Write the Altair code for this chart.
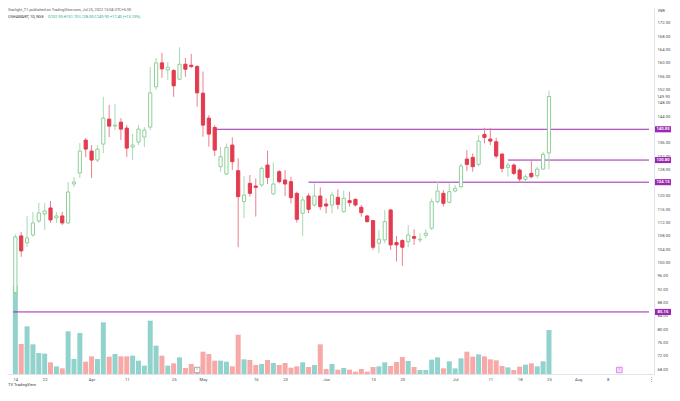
import altair as alt
import pandas as pd

# ---- data (USHAMART, 1D, NSE) ----
bar_index = list(range(92))
opens = [91.0, 108.0, 105.9, 108.3, 112.5, 114.6, 116.4, 113.4, 114.0, 111.9,
         123.6, 126.9, 136.8, 133.5, 130.8, 135.6, 143.1, 141.0, 142.2, 140.4,
         134.7, 136.2, 137.7, 140.7, 152.8, 160.0, 157.9, 157.7, 155.1, 159.6,
         159.3, 158.9, 150.9, 143.4, 140.6, 128.8, 126.6, 135.3, 127.6, 118.3,
         123.8, 123.0, 123.3, 129.3, 120.6, 127.3, 124.8, 124.3, 120.8, 114.8,
         120.0, 117.3, 120.0, 117.6, 117.3, 119.6, 115.3, 118.6, 119.0, 116.6,
         114.0, 112.6, 105.8, 106.8, 115.8, 106.0, 106.6, 106.3, 107.8, 106.8,
         108.2, 110.3, 118.3, 120.8, 118.1, 121.5, 122.8, 131.1, 131.6, 129.5,
         138.5, 137.1, 136.3, 132.6, 128.6, 129.3, 127.8, 125.0, 126.8, 126.1,
         128.1, 132.95]
highs = [108.5, 109.2, 114.0, 115.2, 117.9, 117.9, 118.5, 115.2, 115.2, 124.2,
         125.7, 135.9, 137.4, 135.3, 135.3, 149.8, 147.4, 147.7, 143.4, 141.3,
         138.6, 141.3, 140.7, 158.8, 161.5, 163.0, 160.3, 158.2, 164.7, 161.5,
         162.7, 159.4, 157.4, 144.3, 141.3, 134.8, 135.8, 137.6, 131.3, 126.0,
         126.3, 125.3, 128.8, 133.6, 130.1, 127.8, 127.8, 125.8, 121.3, 119.8,
         120.8, 123.8, 122.6, 119.3, 121.3, 122.0, 121.6, 121.3, 119.3, 117.3,
         114.3, 112.8, 109.8, 115.8, 116.0, 108.0, 107.0, 111.3, 110.0, 108.8,
         110.0, 119.3, 124.3, 121.8, 123.8, 123.3, 129.8, 133.8, 132.8, 138.3,
         140.5, 140.5, 137.5, 132.8, 130.1, 129.8, 128.3, 126.5, 130.5, 128.8,
         133.3, 151.7]
lows = [89.0, 101.7, 104.7, 107.7, 111.9, 109.8, 111.9, 111.9, 111.3, 111.6,
        122.7, 125.4, 131.7, 125.4, 130.2, 132.9, 137.7, 139.8, 136.8, 131.7,
        130.8, 135.3, 134.7, 139.8, 151.9, 155.5, 154.9, 149.8, 154.9, 155.8,
        158.5, 146.8, 137.8, 134.8, 132.0, 127.3, 126.3, 127.8, 104.6, 113.3,
        119.8, 113.8, 122.8, 123.6, 120.3, 123.8, 120.0, 117.8, 112.0, 108.0,
        114.8, 116.8, 115.8, 114.8, 114.8, 116.0, 115.0, 116.8, 116.8, 113.8,
        112.0, 103.8, 102.8, 105.8, 103.8, 100.3, 99.0, 104.6, 105.3, 106.0,
        107.3, 109.8, 117.8, 116.8, 117.8, 121.1, 122.3, 127.5, 127.3, 128.8,
        135.8, 135.3, 131.3, 127.1, 125.8, 126.3, 124.1, 124.3, 125.3, 125.3,
        127.8, 128.0]
closes = [107.7, 103.5, 107.4, 111.9, 114.9, 115.5, 112.8, 114.0, 111.9, 121.2,
          124.2, 133.5, 134.1, 130.8, 134.1, 143.4, 141.0, 141.3, 140.1, 134.4,
          135.3, 140.1, 139.8, 151.0, 160.0, 158.2, 158.7, 153.1, 159.6, 158.1,
          158.9, 151.0, 141.3, 138.6, 133.8, 131.8, 134.6, 130.3, 119.8, 120.3,
          120.8, 122.6, 128.3, 125.6, 123.6, 124.3, 123.6, 119.5, 113.0, 118.8,
          116.0, 120.0, 116.8, 117.0, 120.3, 117.5, 119.3, 118.0, 117.3, 115.0,
          112.3, 104.6, 107.0, 112.3, 105.3, 105.3, 104.6, 108.3, 107.3, 107.0,
          108.8, 118.3, 121.5, 117.8, 121.3, 122.3, 129.0, 129.5, 128.8, 136.5,
          137.6, 136.5, 132.0, 128.3, 129.3, 126.8, 125.1, 125.8, 125.8, 128.1,
          132.5, 149.9]
volumes = [265, 90, 143, 89, 63, 61, 35, 23, 17, 128, 45, 123, 37, 53, 45, 155,
           52, 60, 53, 53, 55, 40, 25, 160, 85, 55, 25, 32, 50, 18, 30, 20, 67,
           60, 40, 40, 37, 23, 118, 44, 42, 27, 30, 42, 33, 27, 33, 19, 23, 35,
           21, 27, 89, 15, 30, 13, 18, 13, 7, 15, 7, 21, 23, 35, 24, 36, 51, 39,
           21, 12, 12, 43, 50, 17, 38, 17, 47, 67, 52, 59, 53, 44, 41, 24, 20,
           12, 22, 28, 32, 23, 38, 132]

tick_index = [0, 5, 13, 19, 27, 32, 41, 46, 53, 61, 66, 75, 81, 86, 91, 96, 101]
tick_labels = ["14", "22", "Apr", "11", "25", "May", "16", "23", "Jun", "13",
               "20", "Jul", "11", "18", "25", "Aug", "8"]
price_ticks = list(range(68, 173, 4))

level_values = [140.05, 130.80, 124.15, 85.15]
level_start = [34, 84, 50, -0.4]
level_labels = ["140.05", "130.80", "124.15", "85.15"]
last_price = [149.90]
last_label = ["149.90"]
event_index = [31, 103]
event_text = ["1", "1"]

# ---- layout / style ----
W, H = 646, 366
X_DOM = [-0.4, 108.06]
P_DOM = [66.5, 176.5]
V_DOM = [0, 1098]
FONT = "Roboto"
FS = 4.2
GREEN = "#8fcf99"
GREEN_WICK = "#a6dbae"
RED = "#e33b4f"
RED_WICK = "#ec808c"
PURPLE = "#9c27b0"

df = pd.DataFrame({"i": bar_index, "o": opens, "h": highs, "l": lows,
                   "c": closes, "v": volumes})
up = df["c"] >= df["o"]
df["top"] = df[["o", "c"]].max(axis=1)
df["bot"] = df[["o", "c"]].min(axis=1)
df["fill"] = ["#ffffff" if u else RED for u in up]
df["stroke"] = [GREEN if u else RED for u in up]
df["wick"] = [GREEN_WICK if u else RED_WICK for u in up]
df["vcol"] = ["#92d2cc" if u else "#f7a9a7" for u in up]

label_expr = "".join(f"datum.value == {v} ? '{t}' : "
                     for v, t in zip(tick_index, tick_labels)) + "''"

xscale = alt.Scale(domain=X_DOM, nice=False, zero=False)
x_axis = alt.Axis(values=tick_index, labelExpr=label_expr, ticks=False,
                  grid=False, domainColor="#e0e3eb", labelFontSize=FS,
                  labelColor="#4a4a4a", labelPadding=3, title=None,
                  labelOverlap=False, labelFlush=False, labelFont=FONT)
X = alt.X("i:Q", scale=xscale, axis=x_axis)

pscale = alt.Scale(domain=P_DOM, nice=False, zero=False)
price_axis = alt.Axis(orient="right", values=price_ticks, format=".2f",
                      ticks=False, grid=False, domainColor="#e0e3eb",
                      labelFontSize=FS, labelColor="#4a4a4a", labelPadding=3,
                      title=None, labelOverlap=False, labelFlush=False,
                      labelSeparation=0, labelFont=FONT)


def PY(field):
    return alt.Y(field, scale=pscale, axis=price_axis)


base = alt.Chart(df)

vol = base.mark_bar(size=5).encode(
    x=X,
    y=alt.Y("v:Q", scale=alt.Scale(domain=V_DOM, nice=False), axis=None),
    color=alt.Color("vcol:N", scale=None),
)

levels = pd.DataFrame({"lvl": level_values, "x0": level_start,
                       "x1": [X_DOM[1]] * len(level_values),
                       "lbl": level_labels})

hlines = alt.Chart(levels).mark_rule(color=PURPLE, strokeWidth=1).encode(
    x=alt.X("x0:Q", scale=xscale, axis=x_axis), x2="x1:Q", y=PY("lvl:Q"),
)

wicks = base.mark_rule(strokeWidth=1).encode(
    x=X, y=PY("l:Q"), y2="h:Q",
    color=alt.Color("wick:N", scale=None),
)

bodies = base.mark_bar(size=3.2, strokeWidth=1).encode(
    x=X, y=PY("bot:Q"), y2="top:Q",
    fill=alt.Fill("fill:N", scale=None),
    stroke=alt.Stroke("stroke:N", scale=None),
)

box_shape = "M-1,-0.38L1,-0.38L1,0.38L-1,0.38Z"
level_boxes = alt.Chart(levels).mark_point(
    shape=box_shape, filled=True, color=PURPLE, opacity=1, size=256
).encode(x=alt.value(W + 9), y=PY("lvl:Q"))

level_text = alt.Chart(levels).mark_text(
    color="white", fontSize=FS, font=FONT, fontWeight="bold"
).encode(x=alt.value(W + 9), y=PY("lvl:Q"), text="lbl:N")

last_df = pd.DataFrame({"p": last_price, "t": last_label})
last_text = alt.Chart(last_df).mark_text(
    align="left", color="#4a4a4a", fontSize=FS, font=FONT
).encode(x=alt.value(W + 3), y=PY("p:Q"), text="t:N")

inr = alt.Chart(pd.DataFrame({"t": ["INR"]})).mark_text(
    align="left", baseline="middle", color="#4a4a4a", fontSize=FS, font=FONT
).encode(x=alt.value(W + 4), y=alt.value(3), text="t:N")

hdr1 = alt.Chart(pd.DataFrame({"t": [
    "Starlight_T1 published on TradingView.com, Jul 25, 2022 15:04 UTC+5:30"]})
).mark_text(align="left", baseline="top", color="#555555", fontSize=3.8,
            font=FONT).encode(x=alt.value(0), y=alt.value(0), text="t:N")

hdr2a = alt.Chart(pd.DataFrame({"t": ["USHAMART, 1D, NSE"]})).mark_text(
    align="left", baseline="top", color="#333333", fontSize=3.9, font=FONT
).encode(x=alt.value(0), y=alt.value(7), text="t:N")

hdr2b = alt.Chart(pd.DataFrame({"t": [
    "O132.95 H151.70 L128.00 C149.90 +17.40 (+13.13%)"]})).mark_text(
    align="left", baseline="top", color="#26a69a", fontSize=3.9, font=FONT
).encode(x=alt.value(40), y=alt.value(7), text="t:N")

events = pd.DataFrame({"i": event_index, "t": event_text,
                       "sc": ["#888888", "#d05ce3"],
                       "fc": ["#ffffff", "#f6e3f9"]})
ev_box = alt.Chart(events).mark_point(shape="square", filled=True, size=30,
                                      strokeWidth=0.7, opacity=1).encode(
    x=alt.X("i:Q", scale=xscale, axis=x_axis),
    y=alt.value(H - 4),
    fill=alt.Fill("fc:N", scale=None),
    stroke=alt.Stroke("sc:N", scale=None),
)
ev_text = alt.Chart(events).mark_text(fontSize=3.8, font=FONT).encode(
    x=alt.X("i:Q", scale=xscale, axis=x_axis),
    y=alt.value(H - 4),
    text="t:N",
    color=alt.Color("sc:N", scale=None),
)

footer = alt.Chart(pd.DataFrame({"t": ["TV TradingView"]})).mark_text(
    align="left", baseline="middle", color="#333333", fontSize=4, font=FONT
).encode(x=alt.value(0), y=alt.value(H + 11), text="t:N")

dots = alt.Chart(pd.DataFrame({"t": ["\u22ee"]})).mark_text(
    color="#555555", fontSize=5, font=FONT
).encode(x=alt.value(W - 3), y=alt.value(H + 5), text="t:N")

price_layer = alt.layer(hlines, wicks, bodies, level_boxes, level_text,
                        last_text, inr, hdr1, hdr2a, hdr2b, ev_box, ev_text,
                        footer, dots)

chart = alt.layer(vol, price_layer).resolve_scale(y="independent").properties(
    width=W, height=H, padding=0, background="white"
).configure_view(stroke=None).configure_text(font=FONT)

chart.save("out.html", embed_options={"renderer": "svg", "actions": False})
